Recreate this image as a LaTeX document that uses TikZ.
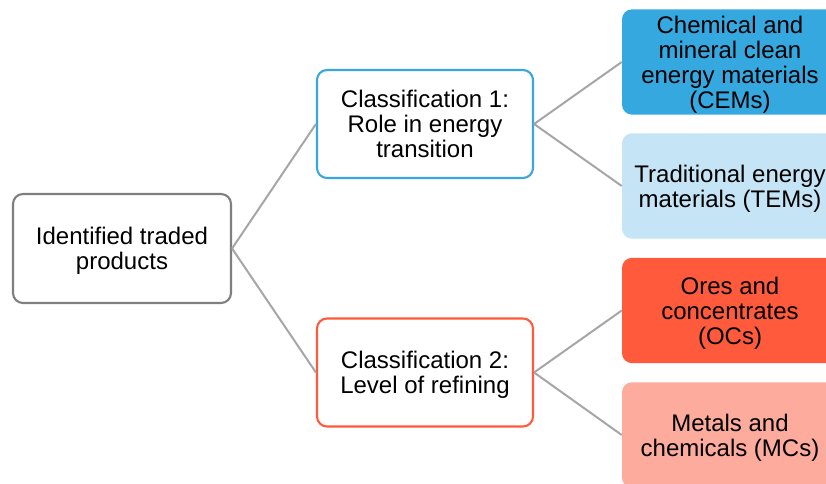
\documentclass[tikz,border=0pt]{standalone}
\usepackage{fontspec}
\setmainfont{Liberation Sans}
\definecolor{edgegray}{HTML}{A6A6A6}
\definecolor{rootgray}{HTML}{7F7F7F}
\definecolor{blueline}{HTML}{3AA6DF}
\definecolor{redline}{HTML}{FF5A3C}
\definecolor{cemfill}{HTML}{35A8E0}
\definecolor{temfill}{HTML}{C5E4F5}
\definecolor{ocfill}{HTML}{FF5A3C}
\definecolor{mcfill}{HTML}{FCAB9C}
\tikzset{
  base/.style={rectangle, rounded corners=7.5pt, align=center, inner sep=0pt,
    text depth=0pt,
    font=\fontsize{18pt}{18.75pt}\selectfont, text=black},
  outlined/.style={base, draw=#1, line width=1.6pt, fill=white,
    minimum width=162pt, minimum height=81pt},
  filled/.style={base, fill=#1, draw=none,
    minimum width=162pt, minimum height=79pt},
  link/.style={draw=edgegray, line width=1.5pt}
}
\begin{document}
\begin{tikzpicture}[x=0.75pt,y=-0.75pt]
\useasboundingbox (0,0) rectangle (826,484);
\node[outlined=rootgray, minimum width=163.5pt, minimum height=81.75pt] (root) at (122,248.5) {Identified traded\\products};
\node[outlined=blueline] (c1) at (425,124) {Classification 1:\\Role in energy\\transition};
\node[outlined=redline] (c2) at (425,372.5) {Classification 2:\\Level of refining};
\node[filled=cemfill] (cem) at (730,62) {Chemical and\\mineral clean\\energy materials\\(CEMs)};
\node[filled=temfill] (tem) at (730,186) {Traditional energy\\materials (TEMs)};
\node[filled=ocfill] (oc) at (730,310.5) {Ores and\\concentrates\\(OCs)};
\node[filled=mcfill] (mc) at (730,435) {Metals and\\chemicals (MCs)};
\draw[link] (root.east) -- (c1.west);
\draw[link] (root.east) -- (c2.west);
\draw[link] (c1.east) -- (cem.west);
\draw[link] (c1.east) -- (tem.west);
\draw[link] (c2.east) -- (oc.west);
\draw[link] (c2.east) -- (mc.west);
\end{tikzpicture}
\end{document}
